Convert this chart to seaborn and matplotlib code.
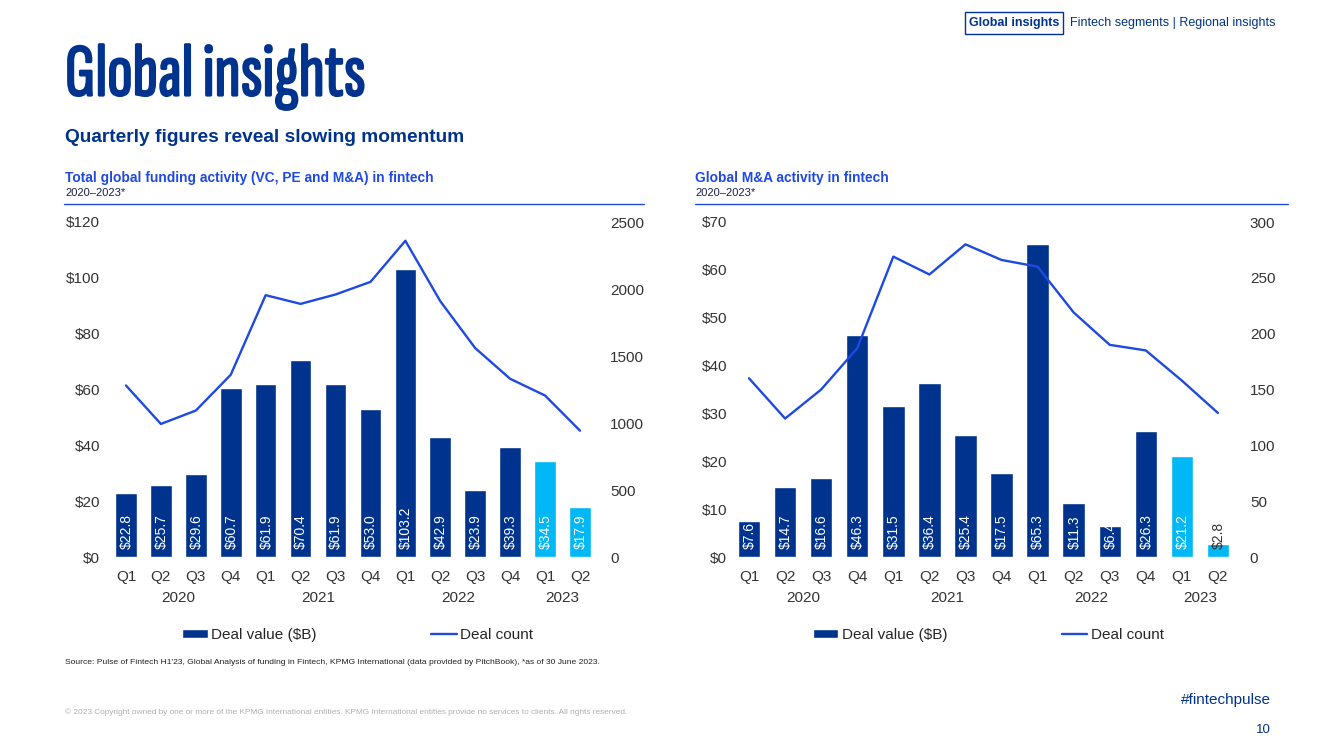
import numpy as np
import pandas as pd
import seaborn as sns
import matplotlib.pyplot as plt
from matplotlib.patches import Patch, Rectangle
from matplotlib.lines import Line2D
import matplotlib.transforms as mtransforms
import matplotlib.patheffects as pe

quarters = ["Q1", "Q2", "Q3", "Q4"] * 3 + ["Q1", "Q2"]
years = ["2020"] * 4 + ["2021"] * 4 + ["2022"] * 4 + ["2023"] * 2
year_labels = ["2020", "2021", "2022", "2023"]
year_centers = [1.5, 5.5, 9.5, 12.5]

funding_value = [22.8, 25.7, 29.6, 60.7, 61.9, 70.4, 61.9, 53.0, 103.2, 42.9, 23.9, 39.3, 34.5, 17.9]
funding_count = [1280, 993, 1093, 1360, 1954, 1889, 1959, 2053, 2360, 1909, 1559, 1330, 1205, 943]

ma_value = [7.6, 14.7, 16.6, 46.3, 31.5, 36.4, 25.4, 17.5, 65.3, 11.3, 6.4, 26.3, 21.2, 2.8]
ma_count = [160, 124, 150, 187, 269, 253, 280, 266, 260, 219, 190, 185, 158, 129]

DARK = "#00338D"
CYAN = "#00B8F5"
LINE = "#1E49E2"
TXT = "#333333"
FS = 11

sns.set_theme(style="white")
plt.rcParams["font.family"] = ["Liberation Sans", "DejaVu Sans"]

fig = plt.figure(figsize=(13.33, 7.5), dpi=100)


def draw_chart(rect, values, counts, vmax, vstep, cmax, cstep, lpad, rpad):
    df = pd.DataFrame({"key": [f"{y} {q}" for y, q in zip(years, quarters)],
                       "value": values, "count": counts})
    df["pos"] = np.arange(len(df))
    colors = [CYAN if y == "2023" else DARK for y in years]
    ax = fig.add_axes(rect)
    sns.barplot(data=df, x="key", y="value", hue="key", palette=colors,
                legend=False, width=0.62, saturation=1, ax=ax)
    ax.set_xlim(-0.5, len(df) - 0.5)
    ax.set_ylim(0, vmax)
    ax.set_yticks(np.arange(0, vmax + 1, vstep))
    ax.set_yticklabels([f"${int(t)}" for t in np.arange(0, vmax + 1, vstep)])
    ax.set_xticks(df["pos"])
    ax.set_xticklabels(quarters)
    ax.set_xlabel("")
    ax.set_ylabel("")
    ax.tick_params(axis="y", length=0, pad=lpad, labelsize=FS, colors=TXT)
    ax.tick_params(axis="x", length=0, pad=9, labelsize=FS, colors=TXT)
    for s in ax.spines.values():
        s.set_visible(False)

    # value labels inside the bars
    for p, v in zip(df["pos"], df["value"]):
        col = "white" if v > 5 else TXT
        ax.annotate(f"${v:.1f}", (p, 0), xytext=(0.5, 6), textcoords="offset points",
                    rotation=90, ha="center", va="bottom", color=col, fontsize=10)

    trans = mtransforms.blended_transform_factory(ax.transData, ax.transAxes)
    for c, lab in zip(year_centers, year_labels):
        ax.text(c, -0.122, lab, transform=trans, ha="center", va="center",
                fontsize=FS, color=TXT)

    ax2 = ax.twinx()
    sns.lineplot(data=df, x="pos", y="count", color=LINE, linewidth=1.7, ax=ax2)
    ax2.set_ylim(0, cmax)
    ax2.set_yticks(np.arange(0, cmax + 1, cstep))
    ax2.set_xlabel("")
    ax2.set_ylabel("")
    ax2.tick_params(axis="y", length=0, pad=rpad, labelsize=FS, colors=TXT)
    for s in ax2.spines.values():
        s.set_visible(False)
    ax2.set_xlim(-0.5, len(df) - 0.5)

    handles = [Patch(facecolor=DARK, label="Deal value ($B)"),
               Line2D([], [], color=LINE, lw=1.7, label="Deal count")]
    ax.legend(handles=handles, loc="center", bbox_to_anchor=(0.51, -0.232),
              ncol=2, frameon=False, fontsize=FS, columnspacing=7.5,
              handlelength=1.65, handletextpad=0.25, handleheight=0.5)
    return ax


draw_chart([0.0814, 0.2573, 0.3668, 0.4467], funding_value, funding_count,
           120, 20, 2500, 500, 6, 9)
draw_chart([0.5484, 0.2573, 0.3788, 0.4467], ma_value, ma_count,
           70, 10, 300, 50, 3, 10)

# header texts
fig.text(65 / 1333, 1 - 77 / 750, "Global insights", fontsize=54,
         color=DARK, va="center", ha="left",
         family=["Sofia Sans Extra Condensed", "Oswald", "DejaVu Sans"],
         path_effects=[pe.withStroke(linewidth=1.6, foreground=DARK)])
fig.text(65 / 1333, 1 - 138 / 750, "Quarterly figures reveal slowing momentum",
         fontsize=13.8, fontweight="bold", color=DARK, va="center")

fig.text(65 / 1333, 1 - 178 / 750,
         "Total global funding activity (VC, PE and M&A) in fintech",
         fontsize=9.9, fontweight="bold", color=LINE, va="center")
fig.text(65 / 1333, 1 - 193 / 750, "2020\u20132023*", fontsize=8,
         color="#1a1f4f", va="center")
fig.text(695 / 1333, 1 - 178 / 750, "Global M&A activity in fintech",
         fontsize=9.9, fontweight="bold", color=LINE, va="center")
fig.text(695 / 1333, 1 - 193 / 750, "2020\u20132023*", fontsize=8,
         color="#1a1f4f", va="center")
fig.add_artist(Line2D([64 / 1333, 644 / 1333], [1 - 204 / 750] * 2,
                      color=LINE, lw=1))
fig.add_artist(Line2D([695 / 1333, 1288 / 1333], [1 - 204 / 750] * 2,
                      color=LINE, lw=1))

# navigation
fig.add_artist(Rectangle((965 / 1333, 1 - 34 / 750), 98 / 1333, 22 / 750,
                         fill=False, edgecolor=DARK, lw=1))
fig.text(1014 / 1333, 1 - 23 / 750, "Global insights", fontsize=9,
         fontweight="bold", color=DARK, ha="center", va="center")
fig.text(1070 / 1333, 1 - 23 / 750, "Fintech segments | Regional insights",
         fontsize=9, color=DARK, ha="left", va="center")

# footer
fig.text(65 / 1333, 1 - 662 / 750,
         "Source: Pulse of Fintech H1'23, Global Analysis of funding in Fintech, KPMG "
         "International (data provided by PitchBook), *as of 30 June 2023.",
         fontsize=6.1, color="#222222", va="center")
fig.text(65 / 1333, 1 - 712 / 750,
         "\u00a9 2023 Copyright owned by one or more of the KPMG International entities. "
         "KPMG International entities provide no services to clients. All rights reserved.",
         fontsize=5.95, color="#b0b0b0", va="center")
fig.text(1271 / 1333, 1 - 700 / 750, "#fintechpulse", fontsize=11, color=DARK,
         ha="right", va="center")
fig.text(1271 / 1333, 1 - 730 / 750, "10", fontsize=9.5, color=DARK,
         ha="right", va="center")

fig.savefig("out.png", dpi=100)
